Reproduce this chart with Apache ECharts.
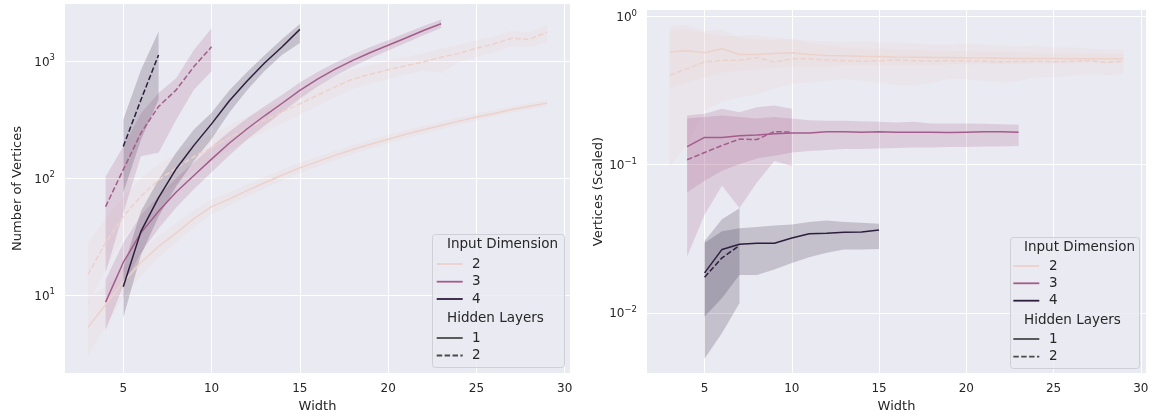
<!DOCTYPE html>
<html>
<head>
<meta charset="utf-8">
<script src="https://cdn.jsdelivr.net/npm/echarts@6/dist/echarts.min.js"></script>
<style>
  html, body { margin: 0; padding: 0; background: #ffffff; }
  #chart { width: 1158px; height: 418px; }
</style>
</head>
<body>
<div id="chart"></div>
<script>
// Widths tested per input dimension
const widthsDim2 = [3,4,5,6,7,8,9,10,11,12,13,14,15,16,17,18,19,20,21,22,23,24,25,26,27,28,29];
const widthsDim3L1 = [4,5,6,7,8,9,10,11,12,13,14,15,16,17,18,19,20,21,22,23];
const widthsDim3L2 = [4,5,6,7,8,9,10];
const widthsDim4L1 = [5,6,7,8,9,10,11,12,13,14,15];
const widthsDim4L2 = [5,6,7];

// ---- Number of vertices (mean, lower CI, upper CI) ----
const vertD2L1 = [5.3,8.3,13,19,26,34,45,57,66,78,91,106,122,138,156,175,194,214,236,258,281,306,332,356,384,410,436];
const vertD2L1Lo = [3.0,5.5,9.5,14.5,21,28,38,49,58,69,81,95,110,125,142,160,178,197,218,239,261,285,310,333,360,385,412];
const vertD2L1Hi = [9.0,12,17,24,32,41,53,66,75,88,102,118,135,152,171,191,211,233,256,279,303,329,356,381,410,437,462];

const vertD2L2 = [15,28,47,70,96,122,152,182,220,265,312,368,430,510,600,700,770,840,910,985,1075,1160,1280,1400,1560,1530,1760];
const vertD2L2Lo = [8,17,30,47,68,90,115,140,172,210,250,295,345,410,490,575,640,700,765,830,790,975,1080,1190,1330,1320,1420];
const vertD2L2Hi = [28,45,70,100,132,162,198,235,280,333,390,455,530,625,730,845,920,1000,1080,1165,1270,1370,1500,1620,1800,1760,2030];

const vertD3L1 = [8.7,19,34,52,76,105,145,198,262,340,435,560,700,850,1010,1180,1360,1570,1820,2080];
const vertD3L1Lo = [5.0,12,23,37,56,80,112,156,212,280,365,475,605,745,895,1055,1225,1420,1660,1910];
const vertD3L1Hi = [13.5,28,48,70,100,136,186,248,322,410,515,655,805,965,1135,1315,1505,1730,1990,2260];

const vertD3L2 = [57,118,242,408,566,894,1320];
const vertD3L2Lo = [15.5,50,153,164,314,566,815];
const vertD3L2Hi = [103,186,358,532,714,1240,1900];

const vertD4L1 = [11.8,35,68,120,190,290,455,670,960,1320,1860];
const vertD4L1Lo = [6.4,22,47,85,140,215,360,560,820,1130,1420];
const vertD4L1Hi = [17,52,97,165,260,360,560,800,1120,1540,2070];

const vertD4L2 = [186,465,1125];
const vertD4L2Lo = [75,212,465];
const vertD4L2Hi = [314,837,1780];

// ---- Vertices scaled (mean, lower CI, upper CI) ----
const scaledD2L1 = [0.578,0.588,0.570,0.607,0.556,0.556,0.564,0.570,0.556,0.548,0.545,0.540,0.538,0.535,0.533,0.530,0.530,0.527,0.527,0.525,0.523,0.522,0.522,0.521,0.520,0.520,0.520];
const scaledD2L1Lo = [0.327,0.36,0.39,0.42,0.43,0.44,0.45,0.46,0.46,0.46,0.47,0.47,0.47,0.47,0.47,0.47,0.475,0.475,0.48,0.48,0.48,0.485,0.485,0.485,0.49,0.49,0.49];
const scaledD2L1Hi = [0.86,0.88,0.80,0.82,0.72,0.70,0.70,0.71,0.66,0.64,0.62,0.61,0.61,0.60,0.60,0.59,0.59,0.585,0.58,0.58,0.575,0.57,0.57,0.565,0.565,0.56,0.56];

const scaledD2L2 = [0.402,0.446,0.495,0.508,0.508,0.530,0.495,0.519,0.520,0.510,0.505,0.500,0.505,0.510,0.505,0.500,0.505,0.502,0.500,0.495,0.498,0.500,0.495,0.500,0.505,0.490,0.500];
const scaledD2L2Lo = [0.096,0.138,0.233,0.265,0.286,0.30,0.327,0.353,0.36,0.37,0.38,0.37,0.36,0.345,0.345,0.36,0.38,0.38,0.37,0.36,0.37,0.39,0.39,0.40,0.41,0.40,0.41];
const scaledD2L2Hi = [0.80,0.82,0.78,0.74,0.74,0.75,0.72,0.70,0.69,0.68,0.68,0.68,0.67,0.67,0.66,0.65,0.65,0.66,0.65,0.64,0.63,0.64,0.62,0.62,0.61,0.60,0.60];

const scaledD3L1 = [0.1325,0.153,0.153,0.157,0.159,0.162,0.164,0.164,0.167,0.167,0.166,0.167,0.166,0.166,0.166,0.165,0.166,0.167,0.167,0.166];
const scaledD3L1Lo = [0.065,0.078,0.091,0.101,0.110,0.115,0.121,0.124,0.126,0.128,0.128,0.129,0.130,0.131,0.131,0.132,0.132,0.133,0.133,0.134];
const scaledD3L1Hi = [0.205,0.21,0.215,0.21,0.205,0.21,0.205,0.20,0.198,0.198,0.197,0.195,0.193,0.195,0.19,0.19,0.19,0.189,0.188,0.186];

const scaledD3L2 = [0.108,0.121,0.135,0.149,0.148,0.1675,0.166];
const scaledD3L2Lo = [0.024,0.046,0.072,0.051,0.076,0.106,0.098];
const scaledD3L2Hi = [0.215,0.221,0.239,0.226,0.245,0.251,0.239];

const scaledD4L1 = [0.0186,0.0268,0.029,0.0295,0.0295,0.032,0.0342,0.0345,0.035,0.0352,0.0362];
const scaledD4L1Lo = [0.0094,0.0126,0.018,0.018,0.0196,0.0217,0.0237,0.0254,0.0268,0.0268,0.027];
const scaledD4L1Hi = [0.0297,0.0356,0.0372,0.038,0.0389,0.0395,0.041,0.042,0.041,0.0405,0.040];

const scaledD4L2 = [0.0174,0.0235,0.0285];
const scaledD4L2Lo = [0.0049,0.0073,0.0116];
const scaledD4L2Hi = [0.0305,0.0428,0.0508];

// Legend entries
const dimLabels = ['2', '3', '4'];
const layerLabels = ['1', '2'];

// Colours for input dimensions 2, 3, 4
const dimColors = ['#edd1cb', '#a35c8b', '#2d1e3e'];
const textColor = '#262626';
const FONT = 'DejaVu Sans';

const chart = echarts.init(document.getElementById('chart'), null, { renderer: 'canvas' });

function bandSeries(axis, xs, lo, hi, color, z) {
  return {
    type: 'custom',
    xAxisIndex: axis, yAxisIndex: axis,
    silent: true, z: z,
    data: xs.map((x, i) => [x, lo[i], hi[i]]),
    encode: { x: 0, y: [1, 2] },
    renderItem: function (params, api) {
      if (params.dataIndex !== 0) return null;
      const top = xs.map((x, i) => api.coord([x, hi[i]]));
      const bottom = xs.map((x, i) => api.coord([x, lo[i]])).reverse();
      return {
        type: 'polygon',
        shape: { points: top.concat(bottom) },
        style: { fill: color, opacity: 0.2 }
      };
    }
  };
}

function lineSeries(axis, xs, ys, color, dashed, z) {
  return {
    type: 'line',
    xAxisIndex: axis, yAxisIndex: axis,
    silent: true, z: z,
    symbol: 'none', showSymbol: false,
    data: xs.map((x, i) => [x, ys[i]]),
    lineStyle: { color: color, width: 1.5, type: dashed ? [5.5, 2.4] : 'solid', cap: 'butt' }
  };
}

const groups = [
  // [xs, vertices mean/lo/hi, scaled mean/lo/hi, colour, dashed]
  [widthsDim2, vertD2L1, vertD2L1Lo, vertD2L1Hi, scaledD2L1, scaledD2L1Lo, scaledD2L1Hi, 0, false],
  [widthsDim2, vertD2L2, vertD2L2Lo, vertD2L2Hi, scaledD2L2, scaledD2L2Lo, scaledD2L2Hi, 0, true],
  [widthsDim3L1, vertD3L1, vertD3L1Lo, vertD3L1Hi, scaledD3L1, scaledD3L1Lo, scaledD3L1Hi, 1, false],
  [widthsDim3L2, vertD3L2, vertD3L2Lo, vertD3L2Hi, scaledD3L2, scaledD3L2Lo, scaledD3L2Hi, 1, true],
  [widthsDim4L1, vertD4L1, vertD4L1Lo, vertD4L1Hi, scaledD4L1, scaledD4L1Lo, scaledD4L1Hi, 2, false],
  [widthsDim4L2, vertD4L2, vertD4L2Lo, vertD4L2Hi, scaledD4L2, scaledD4L2Lo, scaledD4L2Hi, 2, true]
];

const series = [];
groups.forEach((g, k) => {
  const [xs, vm, vlo, vhi, sm, slo, shi, ci, dashed] = g;
  const c = dimColors[ci];
  series.push(bandSeries(0, xs, vlo, vhi, c, 1 + k));
  series.push(bandSeries(1, xs, slo, shi, c, 1 + k));
});
groups.forEach((g, k) => {
  const [xs, vm, vlo, vhi, sm, slo, shi, ci, dashed] = g;
  const c = dimColors[ci];
  series.push(lineSeries(0, xs, vm, c, dashed, 10 + k));
  series.push(lineSeries(1, xs, sm, c, dashed, 10 + k));
});

function powerLabel(v) {
  const e = Math.log10(v);
  const r = Math.round(e);
  if (Math.abs(e - r) > 1e-6) return '';
  const exp = r < 0 ? '\u2212' + (-r) : String(r);
  return '{b|10}{s|' + exp + '}';
}

const richTick = {
  b: { fontSize: 12, color: textColor, fontFamily: FONT, verticalAlign: 'bottom' },
  s: { fontSize: 8.5, color: textColor, fontFamily: FONT, verticalAlign: 'bottom', padding: [0, 0, 6, 0] }
};

function xAxisDef(i) {
  return {
    type: 'value', gridIndex: i, min: 1.7, max: 30.3,
    name: 'Width', nameLocation: 'middle', nameGap: 27,
    nameTextStyle: { fontSize: 13, color: textColor, fontFamily: FONT },
    axisLine: { show: false }, axisTick: { show: false },
    axisLabel: {
      color: textColor, fontSize: 12, fontFamily: FONT, margin: 10,
      formatter: v => (Math.abs(v % 5) < 1e-9 ? String(v) : '')
    },
    splitLine: { show: true, showMinLine: false, showMaxLine: false, lineStyle: { color: '#ffffff', width: 1 } }
  };
}

function yAxisDef(i, min, max, name, gap, margin) {
  return {
    type: 'log', logBase: 10, gridIndex: i, min: min, max: max,
    name: name, nameLocation: 'middle', nameGap: gap, nameRotate: 90,
    nameTextStyle: { fontSize: 13, color: textColor, fontFamily: FONT },
    axisLine: { show: false }, axisTick: { show: false },
    minorTick: { show: false }, minorSplitLine: { show: false },
    axisLabel: {
      margin: margin, formatter: powerLabel, rich: richTick,
      showMinLabel: false, showMaxLabel: false
    },
    splitLine: { show: true, showMinLine: false, showMaxLine: false, lineStyle: { color: '#ffffff', width: 1 } }
  };
}

// Legend drawn as graphic elements (two titled sections)
function legendGraphic(box, lineX0, lineX1, textX, titleX, rowsY) {
  const els = [];
  els.push({
    type: 'rect', z: 100,
    shape: { x: box[0] + 0.5, y: box[1] + 0.5, width: box[2] - box[0], height: box[3] - box[1], r: 3 },
    style: { fill: 'rgba(234,234,242,0.8)', stroke: '#cfcfd6', lineWidth: 1 }
  });
  const txt = (x, y, s) => ({
    type: 'text', z: 101, x: x, y: y,
    style: { text: s, fill: textColor, font: '13.5px "' + FONT + '"', textVerticalAlign: 'middle', verticalAlign: 'middle' }
  });
  const ln = (y, color, dashed) => ({
    type: 'line', z: 101,
    shape: { x1: lineX0, y1: y, x2: lineX1, y2: y },
    style: { stroke: color, lineWidth: 1.8, lineDash: dashed ? [5.5, 2.4] : null }
  });
  els.push(txt(titleX, rowsY[0], 'Input Dimension'));
  dimLabels.forEach((lab, i) => {
    els.push(ln(rowsY[1 + i], dimColors[i], false));
    els.push(txt(textX, rowsY[1 + i], lab));
  });
  els.push(txt(titleX, rowsY[4], 'Hidden Layers'));
  layerLabels.forEach((lab, i) => {
    els.push(ln(rowsY[5 + i], '#4a4a4a', i === 1));
    els.push(txt(textX, rowsY[5 + i], lab));
  });
  return els;
}

const option = {
  animation: false,
  textStyle: { fontFamily: FONT },
  grid: [
    { left: 65, top: 4, width: 505, height: 369, show: true, backgroundColor: '#eaeaf2', borderWidth: 0 },
    { left: 647, top: 10, width: 499, height: 363, show: true, backgroundColor: '#eaeaf2', borderWidth: 0 }
  ],
  xAxis: [xAxisDef(0), xAxisDef(1)],
  yAxis: [
    yAxisDef(0, 2.16, 3063, 'Number of Vertices', 41, 10),
    yAxisDef(1, 0.00392, 1.11, 'Vertices (Scaled)', 41, 10)
  ],
  series: series,
  graphic: [
    ...legendGraphic([432, 234, 564, 367], 436.7, 462.7, 472, 447, [244.5, 264, 281.7, 299, 318, 338, 355.5]),
    ...legendGraphic([1010, 237, 1139, 368], 1013.3, 1039.3, 1049, 1024, [247, 266, 283.3, 300.7, 320, 339, 356.7])
  ]
};

chart.setOption(option);
</script>
</body>
</html>
